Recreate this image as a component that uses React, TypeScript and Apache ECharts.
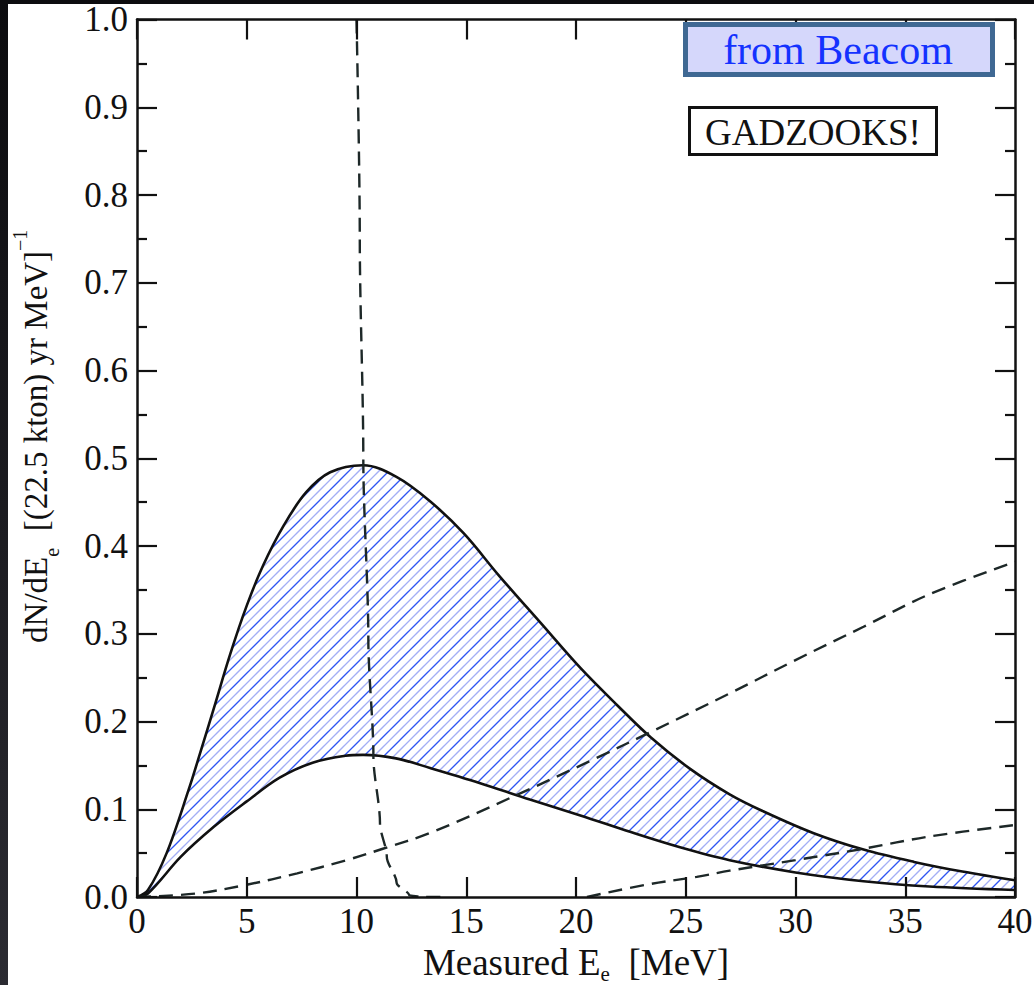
import React, { useEffect, useRef } from "react";
import * as echarts from "echarts";

// ---- data ----
const xTicks = [0, 5, 10, 15, 20, 25, 30, 35, 40];
const yTicks = [0, 0.1, 0.2, 0.3, 0.4, 0.5, 0.6, 0.7, 0.8, 0.9, 1.0];

const upperCurve: [number, number][] = [
  [0, 0], [0.5, 0.008], [1.35, 0.05], [2.35, 0.122], [2.9, 0.166], [3.5, 0.215],
  [4.25, 0.277], [5, 0.332], [5.75, 0.378], [6.7, 0.424], [7.7, 0.461], [8.8, 0.484],
  [10.3, 0.492], [11.8, 0.479], [13.35, 0.451], [14.9, 0.414], [16.5, 0.366],
  [18.4, 0.312], [20.2, 0.261], [21.9, 0.218], [23.4, 0.182], [25.2, 0.146],
  [27, 0.117], [28.5, 0.098], [30.8, 0.073], [33.1, 0.054], [35.4, 0.04],
  [37.6, 0.029], [40, 0.019],
];

const lowerCurve: [number, number][] = [
  [0, 0], [0.5, 0.004], [2, 0.046], [3.5, 0.08], [5, 0.109], [6.5, 0.136],
  [8, 0.153], [9.5, 0.161], [10.3, 0.162], [11.8, 0.158], [13.35, 0.147],
  [15.6, 0.13], [17.9, 0.111], [20.2, 0.093], [22.5, 0.074], [24.7, 0.057],
  [27, 0.042], [30, 0.028], [33.1, 0.018], [36.1, 0.012], [40, 0.008],
];

const steepDashed: [number, number][] = [
  [10, 1.0], [10.15, 0.75], [10.31, 0.5], [10.54, 0.293], [10.77, 0.16],
  [11.07, 0.084], [11.38, 0.046], [11.83, 0.016], [12.4, 0.002], [13, 0], [14, 0],
];

const risingDashed: [number, number][] = [
  [0, 0], [2.7, 0.004], [5, 0.014], [7.3, 0.027], [9.55, 0.042], [11.2, 0.055],
  [13.35, 0.073], [17.1, 0.114], [20.9, 0.158], [23.4, 0.188], [27, 0.232],
  [30, 0.27], [33.1, 0.308], [36.1, 0.345], [40, 0.382],
];

const lateDashed: [number, number][] = [
  [20.5, 0], [23.2, 0.014], [25.5, 0.023], [27, 0.03], [30, 0.042],
  [33.1, 0.055], [36.1, 0.069], [40, 0.082],
];

const FONT = "Liberation Serif";
const INK = "#111";

function makeHatch(): HTMLCanvasElement {
  const T = 20;
  const c = document.createElement("canvas");
  c.width = T;
  c.height = T;
  const ctx = c.getContext("2d")!;
  ctx.fillStyle = "#ffffff";
  ctx.fillRect(0, 0, T, T);
  ctx.lineWidth = 1.3;
  for (let k = -4; k <= 8; k++) {
    const off = k * 10;
    ctx.strokeStyle = k % 2 === 0 ? "#2f55f2" : "#a3aef5";
    ctx.beginPath();
    ctx.moveTo(off - 20, 40);
    ctx.lineTo(off + 40, -20);
    ctx.stroke();
  }
  return c;
}

export default function App() {
  const ref = useRef<HTMLDivElement>(null);

  useEffect(() => {
    if (!ref.current) return;
    const chart = echarts.init(ref.current, null, { renderer: "svg" });
    const hatch = makeHatch();

    const axisLine = { show: true, onZero: false, lineStyle: { color: INK, width: 2.5 } };
    const tick = { show: true, inside: true, length: 20, lineStyle: { color: INK, width: 2.2 } };
    const minor = { show: true, splitNumber: 2, length: 10, lineStyle: { color: INK, width: 2.2 } };
    const labelStyle = { color: INK, fontFamily: FONT, fontSize: 35 };
    const dashStyle = { color: "#1d2828", width: 2.4, type: [14, 8] };

    const option: any = {
      animation: false,
      grid: {
        left: 137,
        right: 19,
        top: 19.5,
        bottom: 88,
        containLabel: false,
        outerBoundsMode: "none",
      },
      xAxis: [
        {
          type: "value",
          min: 0,
          max: 40,
          interval: 5,
          position: "bottom",
          z: 10,
          axisLine,
          axisTick: tick,
          minorTick: { show: false },
          splitLine: { show: false },
          axisLabel: { ...labelStyle, margin: 7, formatter: (v: number) => String(v) },
          name: "{m|Measured E}{s|e}{m|  [MeV]}",
          nameLocation: "middle",
          nameGap: 42,
          nameTextStyle: {
            rich: {
              m: { fontFamily: FONT, fontSize: 37, color: INK, lineHeight: 44 },
              s: { fontFamily: FONT, fontSize: 21, color: INK, verticalAlign: "bottom", lineHeight: 20 },
            },
          },
        },
        {
          type: "value",
          min: 0,
          max: 40,
          interval: 5,
          position: "top",
          z: 10,
          axisLine,
          axisTick: tick,
          axisLabel: { show: false },
          splitLine: { show: false },
        },
      ],
      yAxis: [
        {
          type: "value",
          min: 0,
          max: 1,
          interval: 0.1,
          position: "left",
          z: 10,
          axisLine,
          axisTick: tick,
          minorTick: minor,
          splitLine: { show: false },
          axisLabel: { ...labelStyle, margin: 9, formatter: (v: number) => v.toFixed(1) },
          name: "{m|dN/dE}{s|e}{m|  [(22.5 kton) yr MeV]}{p|−1}",
          nameLocation: "middle",
          nameGap: 75,
          nameTextStyle: {
            padding: [0, 0, 0, 44],
            rich: {
              m: { fontFamily: FONT, fontSize: 33, color: INK, lineHeight: 52 },
              s: { fontFamily: FONT, fontSize: 20, color: INK, verticalAlign: "bottom", lineHeight: 20 },
              p: { fontFamily: FONT, fontSize: 20, color: INK, verticalAlign: "top", lineHeight: 20 },
            },
          },
        },
        {
          type: "value",
          min: 0,
          max: 1,
          interval: 0.1,
          position: "right",
          z: 10,
          axisLine,
          axisTick: tick,
          minorTick: minor,
          splitLine: { show: false },
          axisLabel: { show: false },
        },
      ],
      series: [
        {
          type: "line",
          name: "upper",
          data: upperCurve,
          smooth: 0.35,
          symbol: "none",
          z: 2,
          lineStyle: { color: INK, width: 2.6 },
          areaStyle: { color: { image: hatch, repeat: "repeat" }, opacity: 1 },
        },
        {
          type: "line",
          name: "lower",
          data: lowerCurve,
          smooth: 0.35,
          symbol: "none",
          z: 3,
          lineStyle: { color: INK, width: 2.6 },
          areaStyle: { color: "#ffffff", opacity: 1 },
        },
        {
          type: "line",
          name: "steep",
          data: steepDashed,
          smooth: 0.3,
          smoothMonotone: "y",
          symbol: "none",
          z: 5,
          lineStyle: dashStyle,
        },
        {
          type: "line",
          name: "rising",
          data: risingDashed,
          smooth: 0.35,
          symbol: "none",
          z: 5,
          lineStyle: dashStyle,
        },
        {
          type: "line",
          name: "late",
          data: lateDashed,
          smooth: 0.35,
          symbol: "none",
          z: 5,
          lineStyle: dashStyle,
        },
      ],
      graphic: [
        {
          type: "rect",
          z: -100,
          silent: true,
          shape: { x: 8, y: 4, width: 1026, height: 981 },
          style: { fill: "#ffffff" },
        },
        {
          type: "rect",
          z: 20,
          shape: { x: 685.5, y: 24.5, width: 307, height: 50 },
          style: { fill: "#d5d7fb", stroke: "#3f6893", lineWidth: 5 },
        },
        {
          type: "text",
          z: 21,
          x: 838,
          y: 50,
          style: {
            text: "from Beacom",
            fontFamily: FONT,
            fontSize: 42,
            fill: "#1432ff",
            align: "center",
            verticalAlign: "middle",
          },
        },
        {
          type: "rect",
          z: 20,
          shape: { x: 689.5, y: 107.5, width: 247, height: 47 },
          style: { fill: "#ffffff", stroke: "#111", lineWidth: 3 },
        },
        {
          type: "text",
          z: 21,
          x: 813,
          y: 132,
          style: {
            text: "GADZOOKS!",
            fontFamily: FONT,
            fontSize: 37,
            fill: "#111",
            align: "center",
            verticalAlign: "middle",
          },
        },
      ],
    };

    chart.setOption(option);
    return () => chart.dispose();
  }, []);

  return (
    <div
      style={{
        position: "absolute",
        left: 0,
        top: 0,
        width: 1034,
        height: 985,
        overflow: "hidden",
        background: "linear-gradient(180deg, #0c0c0f 0%, #1c1c21 55%, #2b2b32 100%)",
      }}
    >
      <div ref={ref} style={{ position: "absolute", left: 0, top: 0, width: 1034, height: 985 }} />
    </div>
  );
}
